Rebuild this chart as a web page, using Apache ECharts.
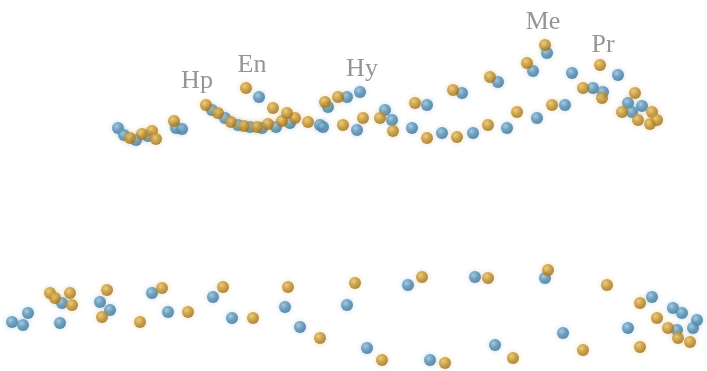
<!DOCTYPE html>
<html>
<head>
<meta charset="utf-8">
<script src="https://cdn.jsdelivr.net/npm/echarts@6/dist/echarts.min.js"></script>
<style>html,body{margin:0;padding:0;background:#fff}#c{width:707px;height:371px}</style>
</head>
<body>
<div id="c"></div>
<script>
// Points, in the chart's own x/y space (x right, y down)
var orangePoints = [
  [130,138],[142,134],[152,131],[156,139],[174,121],
  [206,105],[218,113],[231,122],[244,126],[257,127],[268,124],[282,121],[295,118],[308,122],
  [246,88],[273,108],[287,113],[325,102],[338,97],[343,125],[363,118],[380,118],[393,131],
  [415,103],[427,138],[457,137],[453,90],[488,125],[490,77],[517,112],[527,63],[545,45],
  [552,105],[600,65],[583,88],[602,98],[635,93],[622,112],[652,112],[638,120],[650,124],[657,120],
  [50,293],[55,298],[70,293],[72,305],[107,290],[102,317],[140,322],[162,288],[188,312],[223,287],
  [253,318],[288,287],[320,338],[355,283],[382,360],[422,277],[445,363],
  [488,278],[513,358],[548,270],[583,350],[607,285],[640,303],[657,318],[668,328],[640,347],[678,338],[690,342]
];
var bluePoints = [
  [118,128],[124,135],[136,140],[148,136],[176,128],[182,129],
  [212,110],[225,118],[238,125],[250,127],[262,128],[276,127],[290,123],[320,125],
  [259,97],[328,107],[347,97],[360,92],[323,127],[357,130],[385,110],[392,120],[412,128],
  [427,105],[442,133],[462,93],[473,133],[498,82],[507,128],[533,71],[537,118],[547,53],[565,105],
  [572,73],[618,75],[593,88],[603,92],[628,103],[642,106],[632,112],
  [12,322],[23,325],[28,313],[62,303],[60,323],[100,302],[110,310],[152,293],[168,312],[213,297],[232,318],
  [285,307],[300,327],[347,305],[367,348],[408,285],[430,360],
  [475,277],[495,345],[545,278],[563,333],[652,297],[673,308],[682,313],[697,320],[628,328],[677,330],[693,328]
];
var labelNames = ['Hp','En','Hy','Me','Pr'];
var labelPoints = [[197,81],[252,65],[362,69],[543,22],[603,45]];

function ball(light, mid, dark) {
  return {
    type: 'radial', x: 0.38, y: 0.35, r: 0.7,
    colorStops: [
      {offset: 0, color: light},
      {offset: 0.45, color: mid},
      {offset: 1, color: dark}
    ]
  };
}

var chart = echarts.init(document.getElementById('c'));
chart.setOption({
  animation: false,
  backgroundColor: '#ffffff',
  grid: {left: 0, right: 0, top: 0, bottom: 0},
  xAxis: {type: 'value', min: 0, max: 707, show: false},
  yAxis: {type: 'value', min: 0, max: 371, inverse: true, show: false},
  series: [
    {
      type: 'scatter', symbolSize: 12,
      data: bluePoints,
      itemStyle: {
        color: ball('#9cc6de', '#5893b8', '#386e92'),
        shadowBlur: 5, shadowColor: 'rgba(90,150,190,0.45)'
      }
    },
    {
      type: 'scatter', symbolSize: 12,
      data: orangePoints,
      itemStyle: {
        color: ball('#e8c870', '#c8962e', '#94691c'),
        shadowBlur: 5, shadowColor: 'rgba(210,160,60,0.45)'
      }
    },
    {
      type: 'scatter', symbolSize: 0,
      data: labelPoints.map(function (p, i) { return {value: p, name: labelNames[i]}; }),
      label: {
        show: true, position: 'inside',
        formatter: function (p) { return p.name; },
        color: '#7a7a7a', fontFamily: 'Liberation Serif', fontSize: 26
      },
      silent: true
    }
  ]
});
</script>
</body>
</html>
